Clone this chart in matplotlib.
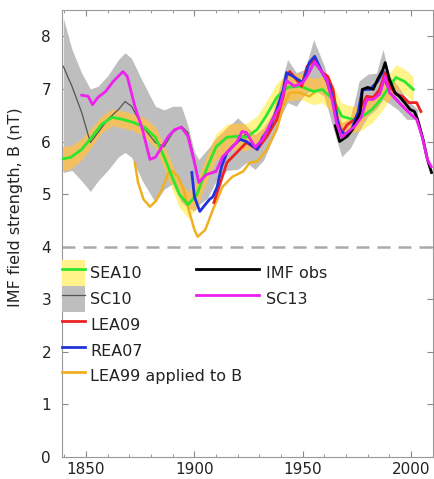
import matplotlib
matplotlib.use("Agg")
import matplotlib.pyplot as plt
from matplotlib.patches import Patch
from matplotlib.lines import Line2D
from matplotlib.ticker import MultipleLocator

plt.rcParams['font.family'] = ['DejaVu Sans']

# SEA10 (green line + yellow uncertainty band)
sea10_year = [1838, 1843, 1848, 1853, 1857, 1862, 1867, 1872, 1877, 1882, 1886, 1890,
              1893, 1897, 1901, 1906, 1910, 1915, 1920, 1924, 1929, 1933, 1938, 1943,
              1949, 1955, 1959, 1964, 1968, 1973, 1977, 1982, 1986, 1990, 1993, 1997, 2001]
sea10_B = [5.66, 5.70, 5.85, 6.10, 6.32, 6.46, 6.42, 6.36, 6.27, 6.08, 5.71, 5.30,
           5.00, 4.80, 4.98, 5.52, 5.90, 6.08, 6.10, 6.08, 6.23, 6.48, 6.84, 7.03,
           7.05, 6.95, 6.99, 6.80, 6.48, 6.42, 6.46, 6.61, 6.80, 7.05, 7.22, 7.14, 6.99]
sea10_err = [0.24, 0.22, 0.20, 0.18, 0.16, 0.16, 0.16, 0.16, 0.18, 0.20, 0.22, 0.24,
             0.25, 0.25, 0.25, 0.25, 0.25, 0.25, 0.25, 0.26, 0.26, 0.27, 0.27, 0.26,
             0.25, 0.25, 0.25, 0.25, 0.25, 0.25, 0.25, 0.25, 0.25, 0.25, 0.24, 0.24, 0.24]

# SC10 (dark grey line + grey range)
sc10_year = [1839.5, 1843.5, 1848, 1852, 1855.5, 1860, 1865, 1868, 1871, 1876, 1882, 1886,
             1890, 1894, 1897, 1900, 1902, 1906, 1910, 1915, 1920, 1924, 1928, 1932,
             1936, 1940, 1943, 1947, 1951, 1955, 1960, 1964, 1968, 1972, 1976, 1980,
             1984, 1987, 1990, 1994, 1998, 2003]
sc10_B = [7.43, 7.05, 6.55, 5.98, 6.17, 6.42, 6.61, 6.76, 6.67, 6.29, 5.98, 5.90,
          6.17, 6.29, 6.17, 5.66, 5.25, 5.38, 5.45, 5.80, 6.00, 6.15, 5.90, 6.05,
          6.42, 6.80, 7.15, 7.05, 7.20, 7.50, 7.25, 6.70, 6.08, 6.22, 6.45, 6.80,
          6.88, 7.20, 6.95, 6.78, 6.58, 6.40]
sc10_hi = [8.35, 7.75, 7.30, 7.00, 7.05, 7.25, 7.56, 7.69, 7.58, 7.15, 6.67, 6.60,
           6.67, 6.67, 6.30, 5.80, 5.66, 5.85, 6.05, 6.25, 6.45, 6.29, 6.12, 6.25,
           6.50, 7.10, 7.56, 7.31, 7.37, 7.94, 7.43, 6.80, 6.35, 6.42, 7.15, 7.28,
           7.30, 7.75, 7.25, 7.05, 6.80, 6.61]
sc10_lo = [5.41, 5.45, 5.25, 5.05, 5.25, 5.45, 5.71, 5.79, 5.70, 5.25, 4.84, 5.09,
           5.20, 4.85, 4.75, 4.68, 4.80, 4.92, 5.25, 5.45, 5.47, 5.60, 5.47, 5.65,
           6.05, 6.50, 6.74, 6.67, 6.90, 6.99, 6.86, 6.25, 5.71, 5.88, 6.20, 6.48,
           6.62, 6.80, 6.72, 6.60, 6.42, 6.42]

# SC13 (magenta)
sc13_year = [1848, 1851, 1853, 1855.5, 1859, 1862.5, 1867, 1869, 1872.5, 1876, 1879.5, 1882,
             1885, 1888, 1891, 1894, 1897, 1900, 1902, 1905.5, 1910, 1913, 1916.5, 1919.5,
             1922, 1924, 1928, 1931.5, 1936, 1939.5, 1942.5, 1946, 1950, 1952, 1955.5, 1959,
             1961, 1963.5, 1965.5, 1968, 1970.5, 1974, 1977, 1979.5, 1982.5, 1985.5, 1988,
             1990, 1993, 1996, 1999, 2002.5, 2005, 2007.5, 2009.3]
sc13_B = [6.88, 6.86, 6.70, 6.84, 6.95, 7.14, 7.33, 7.24, 6.67, 6.23, 5.66, 5.70,
          5.90, 6.10, 6.23, 6.27, 6.10, 5.60, 5.22, 5.37, 5.43, 5.71, 5.85, 5.98,
          6.19, 6.17, 5.89, 6.04, 6.42, 6.67, 7.16, 7.05, 7.12, 7.24, 7.52, 7.31,
          7.18, 6.80, 6.36, 6.08, 6.17, 6.29, 6.46, 6.80, 6.80, 6.90, 7.24,
          6.93, 6.80, 6.67, 6.55, 6.42, 6.10, 5.66, 5.52]

# REA07 (blue)
rea07_year = [1898.8, 1900, 1902.5, 1905, 1907, 1908.5, 1910.5, 1912.5, 1915, 1917.5, 1921,
              1924, 1929, 1931.5, 1935, 1938, 1941, 1942.5, 1945.5, 1950, 1953, 1955.5,
              1959, 1962.5, 1964.5, 1967, 1969.5, 1972.5, 1975.5, 1977.5, 1981, 1984.5, 1987]
rea07_B = [5.41, 4.95, 4.67, 4.80, 4.90, 4.95, 5.14, 5.52, 5.79, 5.90, 6.04,
           6.00, 5.85, 6.08, 6.29, 6.61, 6.99, 7.31, 7.24, 7.12, 7.50, 7.62,
           7.31, 7.05, 6.67, 6.23, 6.13, 6.23, 6.55, 6.99, 6.99, 7.14, 7.33]

# LEA09 (red)
lea09_year = [1909, 1912, 1915, 1919.5, 1924, 1929, 1933.5, 1938, 1941, 1942.5, 1944, 1947,
              1949.5, 1952, 1955.5, 1959, 1961.5, 1964, 1966, 1968, 1970.5, 1974, 1977,
              1979.5, 1982.5, 1985.5, 1988, 1990, 1993, 1996, 1999, 2002.5, 2004.5]
lea09_B = [4.84, 5.22, 5.60, 5.79, 5.98, 5.85, 6.10, 6.42, 6.86, 7.24, 7.33, 7.18,
           7.05, 7.43, 7.56, 7.31, 7.24, 6.99, 6.42, 6.17, 6.32, 6.42, 6.67,
           6.86, 6.84, 6.99, 7.31, 7.05, 6.90, 6.86, 6.74, 6.74, 6.57]

# LEA99 applied to B (orange)
lea99_year = [1872.5, 1874, 1876.5, 1879.5, 1882, 1885, 1888, 1890, 1892.5, 1895, 1897.5,
              1900, 1901.5, 1905, 1908.5, 1913, 1917.5, 1922.5, 1925.5, 1929, 1933.5,
              1938, 1941, 1944, 1948.5, 1953, 1956]
lea99_B = [5.60, 5.22, 4.90, 4.76, 4.86, 5.09, 5.40, 5.43, 5.33, 5.09, 4.68,
           4.32, 4.19, 4.32, 4.70, 5.14, 5.33, 5.43, 5.60, 5.62, 5.85,
           6.23, 6.67, 6.93, 6.93, 6.86, 6.95]

# IMF observations (black)
obs_year = [1965, 1967, 1970.5, 1973, 1976.5, 1977.5, 1980, 1982.5, 1984.5, 1987, 1988,
            1990, 1992.5, 1994.5, 1997, 1999.5, 2001.5, 2003, 2005.5, 2007.5, 2009.4]
obs_B = [6.30, 6.00, 6.10, 6.23, 6.55, 6.99, 7.03, 6.99, 7.18, 7.37, 7.50,
         7.18, 6.93, 6.86, 6.74, 6.61, 6.57, 6.42, 6.04, 5.66, 5.41]

C_YEL = '#FFF38A'
C_ORG = '#F2C060'
C_GRY = '#BEBEBE'
C_GRN = '#2EE62E'
C_RED = '#EE2222'
C_BLU = '#2233DD'
C_MAG = '#F020F0'
C_L99 = '#F0B020'
C_TXT = '#222222'

fig = plt.figure(figsize=(4.35, 4.79), dpi=100)
ax = fig.add_axes([0.143, 0.046, 0.852, 0.933])

sea_lo = [b - e for b, e in zip(sea10_B, sea10_err)]
sea_hi = [b + e for b, e in zip(sea10_B, sea10_err)]
ax.fill_between(sea10_year, sea_lo, sea_hi, color=C_YEL, lw=0, zorder=1)
gray = ax.fill_between(sc10_year, sc10_lo, sc10_hi, color=C_GRY, lw=0, zorder=2)
# where the two bands overlap the original shows an orange tint
over = ax.fill_between(sea10_year, sea_lo, sea_hi, color=C_ORG, lw=0, zorder=3)
over.set_clip_path(gray.get_paths()[0], transform=ax.transData)

ax.axhline(4, color='#AAAAAA', lw=1.8, ls=(0, (5.2, 3.2)), zorder=2)

ax.plot(sc10_year, sc10_B, color='#555555', lw=0.9, zorder=4)
ax.plot(lea99_year, lea99_B, color=C_L99, lw=1.8, zorder=5)
ax.plot(sea10_year, sea10_B, color=C_GRN, lw=2.0, zorder=6)
ax.plot(lea09_year, lea09_B, color=C_RED, lw=2.0, zorder=7)
ax.plot(rea07_year, rea07_B, color=C_BLU, lw=2.0, zorder=8)
ax.plot(obs_year, obs_B, color='black', lw=2.0, zorder=9)
ax.plot(sc13_year, sc13_B, color=C_MAG, lw=2.0, zorder=10)

ax.set_xlim(1839, 2010)
ax.set_ylim(0, 8.5)
ax.xaxis.set_major_locator(MultipleLocator(50))
ax.xaxis.set_minor_locator(MultipleLocator(10))
ax.yaxis.set_major_locator(MultipleLocator(1))
ax.tick_params(which='both', direction='in', top=True, right=True, colors='#888888',
               labelcolor=C_TXT, labelsize=11)
ax.tick_params(which='major', length=4)
ax.tick_params(axis='y', pad=8)
ax.tick_params(which='minor', length=2)
for s in ax.spines.values():
    s.set_color('#999999')
ax.set_ylabel('IMF field strength, B (nT)', fontsize=11.5, color=C_TXT)
ax.yaxis.set_label_coords(-0.105, 0.56)

lfs = 11.5
top = 3.75 / 8.5
h1 = [(Patch(color=C_YEL, lw=0), Line2D([], [], color=C_GRN, lw=2)),
      (Patch(color=C_GRY, lw=0), Line2D([], [], color='#555555', lw=0.9)),
      Line2D([], [], color=C_RED, lw=2),
      Line2D([], [], color=C_BLU, lw=2),
      Line2D([], [], color=C_L99, lw=2)]
l1 = ax.legend(h1, ['SEA10', 'SC10', 'LEA09', 'REA07', 'LEA99 applied to B'],
               loc='upper left', bbox_to_anchor=(0.0, top), borderaxespad=0,
               borderpad=0, frameon=False, fontsize=lfs, handlelength=1.45,
               handleheight=2.12, labelspacing=0.0, handletextpad=0.3,
               labelcolor=C_TXT)
ax.add_artist(l1)
h2 = [Line2D([], [], color='black', lw=2), Line2D([], [], color=C_MAG, lw=2)]
ax.legend(h2, ['IMF obs', 'SC13'], loc='upper left',
          bbox_to_anchor=(0.36, top), borderaxespad=0, borderpad=0,
          frameon=False, fontsize=lfs, handlelength=3.95, handleheight=2.12,
          labelspacing=0.0, handletextpad=0.45, labelcolor=C_TXT)

fig.savefig('out.png', dpi=100)
